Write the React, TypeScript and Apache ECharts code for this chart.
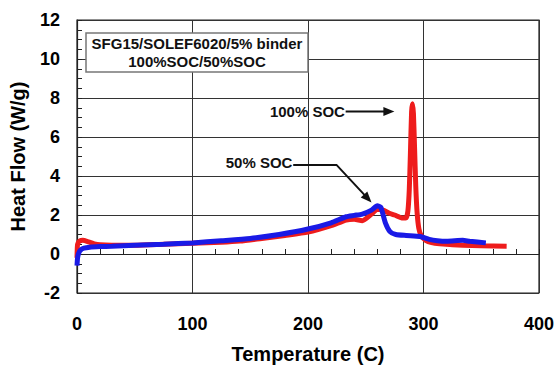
import React, { useEffect, useRef } from "react";
import * as echarts from "echarts";

// 100% SOC (red)
const redTemp = [0, 0.5, 2, 5, 10, 15, 20, 30, 50, 75, 100, 125, 141, 160, 180, 200, 220, 233, 240, 247, 255, 260, 265, 270, 275, 282, 285, 286.5, 287.7, 288.7, 289.7, 290.5, 291.3, 292.3, 293.3, 294.5, 296, 298, 302, 307, 314, 325, 334, 350, 372];
const redHeat = [-0.2, 0.5, 0.65, 0.7, 0.62, 0.52, 0.47, 0.45, 0.45, 0.5, 0.55, 0.6, 0.66, 0.8, 0.95, 1.12, 1.45, 1.74, 1.78, 1.71, 2.05, 2.3, 2.25, 2.1, 2.0, 1.84, 1.85, 2.2, 3.3, 5.2, 7.3, 7.7, 7.2, 5.4, 3.5, 2.1, 1.3, 0.95, 0.7, 0.58, 0.52, 0.48, 0.45, 0.42, 0.4];
// 50% SOC (blue)
const blueTemp = [0, 0.5, 1.5, 3, 6, 11, 20, 30, 50, 75, 100, 125, 150, 175, 200, 220, 233, 240, 247, 255, 260, 263, 267, 271, 276, 285, 297, 305, 312, 320, 334, 340, 354];
const blueHeat = [-0.6, -0.2, 0.05, 0.2, 0.3, 0.35, 0.38, 0.4, 0.45, 0.5, 0.57, 0.68, 0.8, 1.0, 1.28, 1.6, 1.91, 1.98, 2.05, 2.25, 2.47, 2.4, 1.6, 1.15, 1.0, 0.95, 0.9, 0.75, 0.68, 0.65, 0.7, 0.65, 0.57];

const boxLines = ["SFG15/SOLEF6020/5% binder", "100%SOC/50%SOC"];
const label100 = "100% SOC";
const label50 = "50% SOC";
// annotation anchors in data coordinates [temperature, heat flow]
const label100At = [232, 7.31];
const arrow100 = [[232.6, 7.31], [274.8, 7.31]];
const label50At = [186.5, 4.67];
const arrow50 = [[187.2, 4.57], [224.7, 4.57], [255, 2.64]];

const FONT = "'Liberation Sans', Arial, Helvetica, sans-serif";

export default function App() {
  const ref = useRef<HTMLDivElement>(null);
  useEffect(() => {
    if (!ref.current) return;
    const chart = echarts.init(ref.current, undefined, { renderer: "svg" });
    const red = redTemp.map((t, i) => [t, redHeat[i]]);
    const blue = blueTemp.map((t, i) => [t, blueHeat[i]]);
    const axisCommon = {
      type: "value" as const,
      axisLine: { show: true, lineStyle: { color: "#222", width: 1.2 } },
      axisTick: { show: true, inside: true, length: 5, lineStyle: { color: "#222" } },
      minorTick: { show: true, length: 5, lineStyle: { color: "#222", width: 1 } },
      splitLine: { show: true, lineStyle: { color: "#333", width: 1 } },
      axisLabel: { color: "#000", fontSize: 18, fontWeight: "bold" as const, fontFamily: FONT },
      nameTextStyle: { color: "#000", fontSize: 20, fontWeight: "bold" as const, fontFamily: FONT },
      nameLocation: "middle" as const,
    };
    chart.setOption({
      animation: false,
      backgroundColor: "#fff",
      grid: { left: 77, right: 17, top: 20, bottom: 73, show: true, borderColor: "#222", borderWidth: 1.2, containLabel: false },
      xAxis: {
        ...axisCommon,
        min: 0,
        max: 400,
        interval: 100,
        name: "Temperature (C)",
        nameGap: 51,
        minorTick: { ...axisCommon.minorTick, splitNumber: 5 },
        axisLabel: { ...axisCommon.axisLabel, margin: 22 },
      },
      yAxis: {
        ...axisCommon,
        min: -2,
        max: 12,
        interval: 2,
        name: "Heat Flow (W/g)",
        nameGap: 49,
        minorTick: { ...axisCommon.minorTick, splitNumber: 4 },
        axisLabel: { ...axisCommon.axisLabel, margin: 17 },
      },
      series: [
        {
          type: "line",
          name: "100% SOC",
          data: red,
          showSymbol: false,
          smooth: 0.2,
          lineStyle: { color: "#ee1c1c", width: 5 },
          z: 2,
        },
        {
          type: "line",
          name: "50% SOC",
          data: blue,
          showSymbol: false,
          smooth: 0.2,
          lineStyle: { color: "#1a1ae6", width: 5 },
          z: 3,
        },
      ],
    });

    const px = (p: number[]) => chart.convertToPixel({ gridIndex: 0 }, p) as number[];
    const arrowHead = (a: number[], b: number[]) => {
      const dx = b[0] - a[0];
      const dy = b[1] - a[1];
      const len = Math.hypot(dx, dy) || 1;
      const ux = dx / len, uy = dy / len;
      const L = 11, W = 4.5;
      const bx = b[0] - ux * L, by = b[1] - uy * L;
      return [b, [bx - uy * W, by + ux * W], [bx + uy * W, by - ux * W]];
    };
    const arrowGraphics = (pts: number[][]) => {
      const p = pts.map(px);
      const n = p.length;
      const end = arrowHead(p[n - 2], p[n - 1]);
      const dx = p[n - 1][0] - p[n - 2][0], dy = p[n - 1][1] - p[n - 2][1];
      const len = Math.hypot(dx, dy) || 1;
      const shortened = p.slice(0, n - 1).concat([[p[n - 1][0] - (dx / len) * 8, p[n - 1][1] - (dy / len) * 8]]);
      return [
        { type: "polyline", shape: { points: shortened }, style: { stroke: "#111", lineWidth: 2, fill: null }, z: 10 },
        { type: "polygon", shape: { points: end }, style: { fill: "#111" }, z: 10 },
      ];
    };
    const t100 = px(label100At);
    const t50 = px(label50At);
    const textStyle = { fill: "#111", fontSize: 15, fontWeight: "bold", fontFamily: FONT };
    chart.setOption({
      graphic: [
        { type: "rect", shape: { x: 86, y: 33, width: 222, height: 39 }, style: { fill: "#fff", stroke: "#777", lineWidth: 1.5 }, z: 20 },
        { type: "text", x: 197, y: 43, style: { ...textStyle, fontSize: 15, text: boxLines[0], align: "center", verticalAlign: "middle" }, z: 21 },
        { type: "text", x: 197, y: 61, style: { ...textStyle, fontSize: 15, text: boxLines[1], align: "center", verticalAlign: "middle" }, z: 21 },
        { type: "text", x: t100[0], y: t100[1], style: { ...textStyle, text: label100, align: "right", verticalAlign: "middle" }, z: 10 },
        { type: "text", x: t50[0], y: t50[1], style: { ...textStyle, text: label50, align: "right", verticalAlign: "middle" }, z: 10 },
        ...arrowGraphics(arrow100),
        ...arrowGraphics(arrow50),
      ],
    });
    return () => chart.dispose();
  }, []);
  return <div ref={ref} style={{ width: 557, height: 369, position: "absolute", left: 0, top: 0 }} />;
}
